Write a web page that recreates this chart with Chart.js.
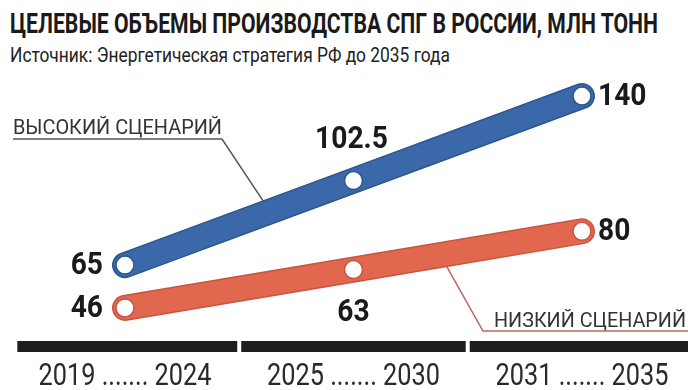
<!DOCTYPE html>
<html>
<head>
<meta charset="utf-8">
<script src="https://cdn.jsdelivr.net/npm/chart.js@4.4.0/dist/chart.umd.min.js"></script>
<style>
  html, body { margin: 0; padding: 0; background: #fff; }
  #wrap { position: relative; width: 688px; height: 390px; overflow: hidden; }
  .hd { position: absolute; left: 10px; white-space: nowrap; transform-origin: 0 0; font-family: Roboto, "DejaVu Sans", sans-serif; }
  #title { top: 7px; font-size: 28px; font-weight: bold; color: #1a1a1a; }
  #sub { top: 43px; font-size: 20px; color: #222; }
  canvas { position: absolute; left: 0; top: 0; }
</style>
</head>
<body>
<div id="wrap">
  <div id="title" class="hd" data-w="648">ЦЕЛЕВЫЕ ОБЪЕМЫ ПРОИЗВОДСТВА СПГ В РОССИИ, МЛН ТОНН</div>
  <div id="sub" class="hd" data-w="440">Источник: Энергетическая стратегия РФ до 2035 года</div>
  <canvas id="lngChart" width="688" height="390"></canvas>
</div>
<script>
const periods = ['2019 ....... 2024', '2025 ....... 2030', '2031 ....... 2035'];
const highScenario = [65, 102.5, 140];
const lowScenario = [46, 63, 80];
const seriesNames = ['ВЫСОКИЙ СЦЕНАРИЙ', 'НИЗКИЙ СЦЕНАРИЙ'];

const FONT = 'Roboto, "DejaVu Sans", sans-serif';
const BLUE = '#3a68a8', BLUE_EDGE = '#2d5690';
const RED = '#e2674f', RED_EDGE = '#c95440';

// squeeze the headings to the narrow width of the original typeface
document.querySelectorAll('.hd').forEach(el => {
    const w = el.getBoundingClientRect().width;
    el.style.transform = 'scaleX(' + (el.dataset.w / w) + ')';
});

// draw text squeezed horizontally; either a fixed factor or a target width
function narrowText(ctx, txt, x, y, sx, targetW) {
    if (targetW) sx = targetW / ctx.measureText(txt).width;
    ctx.save();
    ctx.translate(x, y);
    ctx.scale(sx, 1);
    ctx.fillText(txt, 0, 0);
    ctx.restore();
    return ctx.measureText(txt).width * sx;
}

const toPoints = arr => arr.map((v, i) => ({ x: i, y: v }));

// where each value label goes relative to its point
const labelSides = [['left', 'above', 'right'], ['left', 'below', 'right']];

// black period bars and period labels under the chart
const periodBars = {
    id: 'periodBars',
    afterDraw(chart) {
        const xs = chart.scales.x, ctx = chart.ctx;
        ctx.save();
        ctx.fillStyle = '#1e1e1e';
        periods.forEach((p, i) => {
            const x1 = xs.getPixelForValue(i === 0 ? -0.48 : i - 0.5) + 2;
            const x2 = xs.getPixelForValue(i + 0.5) - 2;
            ctx.fillRect(x1, xs.top - 3, x2 - x1, 11);
        });
        ctx.fillStyle = '#2a2a2a';
        ctx.font = '32px ' + FONT;
        ctx.textAlign = 'center';
        ctx.textBaseline = 'alphabetic';
        periods.forEach((p, i) => {
            narrowText(ctx, p, xs.getPixelForValue(i), xs.top + 41, 1, 173);
        });
        ctx.restore();
    }
};

// scenario captions with leader lines
const leaders = {
    id: 'leaders',
    beforeDatasetsDraw(chart) {
        const xs = chart.scales.x, ys = chart.scales.y, ctx = chart.ctx;
        ctx.save();
        ctx.font = '21px ' + FONT;
        ctx.textBaseline = 'alphabetic';
        ctx.lineWidth = 1.5;
        ctx.fillStyle = '#333';

        // high scenario: caption upper left
        let t = 0.635;
        let yv = highScenario[0] + (highScenario[1] - highScenario[0]) * t;
        ctx.strokeStyle = '#555';
        ctx.textAlign = 'left';
        let w = narrowText(ctx, seriesNames[0], 13, 134, 1, 209);
        ctx.beginPath();
        ctx.moveTo(13, 139);
        ctx.lineTo(13 + w, 139);
        ctx.lineTo(xs.getPixelForValue(t), ys.getPixelForValue(yv));
        ctx.stroke();

        // low scenario: caption lower right
        t = 1.38;
        yv = lowScenario[1] + (lowScenario[2] - lowScenario[1]) * (t - 1);
        ctx.strokeStyle = '#b8695e';
        ctx.textAlign = 'right';
        narrowText(ctx, seriesNames[1], 686, 327, 1, 192);
        ctx.beginPath();
        ctx.moveTo(xs.getPixelForValue(t), ys.getPixelForValue(yv));
        ctx.lineTo(483, 331);
        ctx.lineTo(688, 331);
        ctx.stroke();
        ctx.restore();
    }
};

// value labels next to the points
const valueLabels = {
    id: 'valueLabels',
    afterDatasetsDraw(chart) {
        const ctx = chart.ctx;
        ctx.save();
        ctx.font = 'bold 32px ' + FONT;
        ctx.fillStyle = '#1a1a1a';
        ctx.textBaseline = 'middle';
        const sq = 0.88;
        [2, 3].forEach((di, s) => {
            const meta = chart.getDatasetMeta(di);
            const vals = s === 0 ? highScenario : lowScenario;
            meta.data.forEach((pt, i) => {
                const side = labelSides[s][i];
                const txt = String(vals[i]);
                if (side === 'left') { ctx.textAlign = 'right'; narrowText(ctx, txt, pt.x - 22, pt.y + 1, sq); }
                else if (side === 'right') { ctx.textAlign = 'left'; narrowText(ctx, txt, pt.x + 16, pt.y + 1, sq); }
                else if (side === 'above') { ctx.textAlign = 'center'; narrowText(ctx, txt, pt.x - 2, pt.y - 41, sq); }
                else { ctx.textAlign = 'center'; narrowText(ctx, txt, pt.x, pt.y + 43, sq); }
            });
        });
        ctx.restore();
    }
};

const lineStyle = (color, width) => ({
    borderColor: color,
    borderWidth: width,
    borderCapStyle: 'round',
    borderJoinStyle: 'round',
    tension: 0,
    fill: false
});

new Chart(document.getElementById('lngChart'), {
    type: 'line',
    data: {
        datasets: [
            // darker outline under each band
            { data: toPoints(highScenario), ...lineStyle(BLUE_EDGE, 26), pointRadius: 0, order: 4 },
            { data: toPoints(lowScenario), ...lineStyle(RED_EDGE, 26), pointRadius: 0, order: 3 },
            { label: seriesNames[0], data: toPoints(highScenario), ...lineStyle(BLUE, 23), order: 2,
              pointRadius: 9, pointBackgroundColor: '#fff', pointBorderColor: BLUE_EDGE, pointBorderWidth: 1.5 },
            { label: seriesNames[1], data: toPoints(lowScenario), ...lineStyle(RED, 23), order: 1,
              pointRadius: 9, pointBackgroundColor: '#fff', pointBorderColor: RED_EDGE, pointBorderWidth: 1.5 }
        ]
    },
    options: {
        responsive: false,
        animation: false,
        layout: { autoPadding: false, padding: { top: 73.5, left: 0, right: 0, bottom: 0 } },
        plugins: { legend: { display: false }, tooltip: { enabled: false } },
        scales: {
            x: {
                type: 'linear',
                min: -0.547,
                max: 2.464,
                grid: { display: false },
                border: { display: false },
                ticks: { display: false },
                afterFit: s => { s.height = 46; s.paddingLeft = 0; s.paddingRight = 0; }
            },
            y: { display: false, min: 30, max: 150 }
        }
    },
    plugins: [periodBars, leaders, valueLabels]
});
</script>
</body>
</html>
